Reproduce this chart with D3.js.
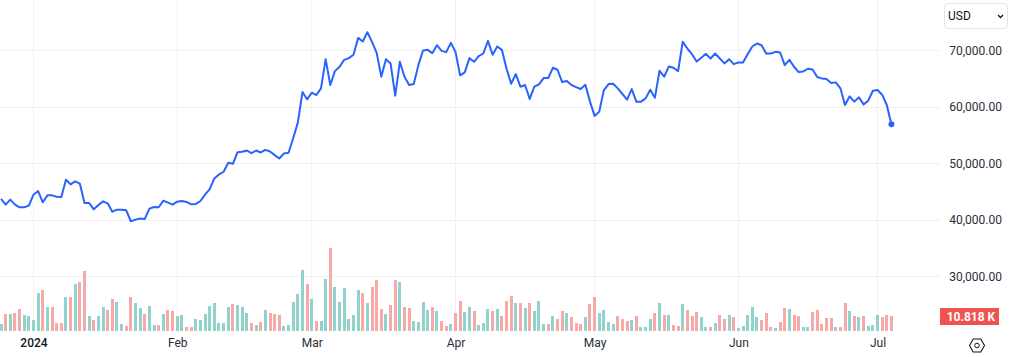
<!DOCTYPE html>
<html>
<head>
<meta charset="utf-8">
<script src="https://cdn.jsdelivr.net/npm/d3@7"></script>
<style>
    html, body { margin: 0; padding: 0; background: #fff; }
    svg { display: block; }
    text { font-family: Roboto, "Open Sans", sans-serif; }
</style>
</head>
<body>
<div id="chart"></div>
<script>
const startDate = "2023-12-25";

const priceValues = [
    43720,42720,43600,42720,42250,42250,42540,44480,45130,43130,44360,44360,44130,44070,47130,46300,46830,46420,43010,43010,
    41890,42660,43300,42950,41480,41830,41830,41710,39780,40070,40250,40190,42010,42300,42250,43420,43070,42720,43250,43360,
    43190,42780,42840,43360,44480,45480,47360,48070,48540,50130,49950,52010,52070,52300,51830,52300,51950,52420,52130,51480,
    50890,51770,51890,54480,57240,62650,61360,62530,62120,63300,68470,63890,66350,67120,68350,68650,69240,72230,71590,73230,
    71530,69590,65360,68470,67710,62000,68000,65360,63890,64060,67410,70000,70120,69530,70940,69940,69710,71350,69760,65590,
    66120,68650,68000,69000,69470,71710,69240,70710,70120,66820,64120,65830,63590,63890,61420,63590,64000,65120,65120,66940,
    66590,64410,64590,63890,63530,63180,63940,60950,58420,59180,63000,64060,64120,63300,62300,61300,63180,60950,60950,61530,
    63060,61650,66410,65360,67180,66940,66350,71530,70350,69350,68060,68710,69410,68590,69470,68590,67710,68470,67590,67880,
    67880,69350,70710,71230,70940,69470,69470,69760,69650,67410,68350,67120,66180,66300,66770,66650,65300,65060,64940,64240,
    64360,63300,60360,61890,60950,61710,60470,61120,62880,63000,62180,60360,56950
];

// thousands
const volumeValues = [
    5.05,12.26,12.26,12.98,15.86,11.54,10.82,7.93,27.4,29.56,17.3,17.3,5.77,5.77,24.51,24.51,33.89,35.33,43.26,10.82,
    7.93,10.82,17.3,15.14,23.07,20.91,5.05,3.61,24.51,20.19,16.58,12.26,18.03,4.33,4.33,12.26,15.14,14.42,10.82,11.54,
    2.88,2.88,8.65,7.93,12.26,18.03,20.19,5.77,5.77,17.3,19.47,18.75,17.3,12.98,5.77,4.33,6.49,15.14,12.98,12.26,
    11.54,3.61,4.33,20.91,26.68,43.98,33.89,23.07,7.21,7.21,37.49,59.84,31.72,20.91,31,8.65,11.54,29.56,27.4,20.19,
    31.72,36.77,15.86,12.26,18.75,36.77,35.33,17.3,16.58,7.21,6.49,20.91,15.14,17.3,14.42,7.21,3.61,5.05,12.98,21.63,
    13.7,17.3,14.42,4.33,5.77,15.86,14.42,15.86,10.82,21.63,25.24,20.19,20.19,16.58,20.19,14.42,21.63,5.05,5.05,10.82,
    8.65,14.42,12.98,10.09,5.77,5.05,10.09,19.47,24.51,12.98,15.14,6.49,5.05,10.82,8.65,7.21,7.93,10.82,2.88,2.88,
    8.65,12.98,20.19,11.54,11.54,4.33,3.61,19.47,15.14,10.82,13.7,10.09,2.88,2.88,5.77,11.54,8.65,11.54,10.09,2.16,
    3.61,11.54,17.3,10.09,7.93,12.98,2.88,2.16,6.49,16.58,15.86,11.54,10.82,2.88,2.88,13.7,15.14,5.05,9.37,9.37,
    2.88,2.88,20.19,14.42,10.82,10.09,10.82,3.61,4.33,11.54,10.09,11.54,10.818
];

// 1 = up day (teal), 0 = down day (red)
const volumeUp = [
    1,0,1,0,0,1,1,1,1,0,1,0,0,0,1,0,1,0,0,1,
    0,1,1,0,0,1,1,0,0,1,1,0,1,1,0,1,0,0,1,1,
    0,0,1,1,1,1,1,1,1,1,0,1,1,1,0,1,0,1,0,0,
    0,1,1,1,1,1,0,1,0,1,1,0,1,1,1,1,1,1,0,1,
    0,0,0,1,0,0,1,0,0,1,1,1,1,0,1,0,0,1,0,0,
    1,1,0,1,1,1,0,1,0,0,0,1,0,1,0,1,1,1,0,1,
    0,0,1,0,0,0,1,0,0,1,1,1,1,0,0,0,1,0,1,1,
    1,0,1,0,1,0,0,1,0,0,0,1,1,0,1,0,0,1,0,1,
    1,1,1,1,0,0,0,1,0,0,1,0,0,1,1,0,0,0,0,0,
    1,0,0,1,0,1,0,1,1,1,0,0,0
];

const priceTicks = [30000, 40000, 50000, 60000, 70000];
const monthTicks = ["2024-01-01", "2024-02-01", "2024-03-01", "2024-04-01", "2024-05-01", "2024-06-01", "2024-07-01"];
const monthLabels = ["2024", "Feb", "Mar", "Apr", "May", "Jun", "Jul"];

const width = 1010;
const height = 357;
const paneRight = 940;
const paneBottom = 333;
const volBase = 331;
const gridColor = "#f1f1f3";
const labelColor = "#2a2e39";

const dates = priceValues.map((d, i) => d3.utcDay.offset(new Date(startDate), i));
const tickDates = monthTicks.map(d => new Date(d));

const x = d3.scaleUtc()
    .domain([tickDates[0], tickDates[6]])
    .range([33.5, 877.5]);

const y = d3.scaleLinear()
    .domain([30000, 70000])
    .range([276.5, 50.5]);

const yVol = d3.scaleLinear()
    .domain([0, 10.818])
    .range([volBase, volBase - 15]);

const svg = d3.select("#chart")
    .append("svg")
    .attr("width", width)
    .attr("height", height);

// grid
svg.append("g")
    .selectAll("line")
    .data(priceTicks)
    .enter()
    .append("line")
    .attr("x1", 0)
    .attr("x2", paneRight)
    .attr("y1", d => Math.round(y(d) - 0.5) + 0.5)
    .attr("y2", d => Math.round(y(d) - 0.5) + 0.5)
    .attr("stroke", gridColor);

svg.append("g")
    .selectAll("line")
    .data(tickDates)
    .enter()
    .append("line")
    .attr("x1", d => x(d))
    .attr("x2", d => x(d))
    .attr("y1", 0)
    .attr("y2", paneBottom)
    .attr("stroke", gridColor);

// volume
svg.append("g")
    .selectAll("rect")
    .data(volumeValues)
    .enter()
    .append("rect")
    .attr("x", (d, i) => Math.round(x(dates[i]) - 1.5))
    .attr("y", d => Math.round(yVol(d)))
    .attr("width", 3)
    .attr("height", d => volBase - Math.round(yVol(d)))
    .attr("fill", (d, i) => volumeUp[i] ? "#92d2cc" : "#f7a9a7");

// price line
const line = d3.line()
    .x((d, i) => x(dates[i]))
    .y(d => y(d));

svg.append("path")
    .datum(priceValues)
    .attr("fill", "none")
    .attr("stroke", "#2962ff")
    .attr("stroke-width", 2)
    .attr("stroke-linejoin", "round")
    .attr("d", line);

const lastIndex = priceValues.length - 1;
svg.append("circle")
    .attr("cx", x(dates[lastIndex]))
    .attr("cy", y(priceValues[lastIndex]))
    .attr("r", 3)
    .attr("fill", "#2962ff");

// price axis
const yAxis = svg.append("g")
    .attr("transform", "translate(1002,0)")
    .call(d3.axisRight(y).tickValues(priceTicks).tickSize(0).tickPadding(0).tickFormat(d3.format(",.2f")));
yAxis.select(".domain").remove();
yAxis.selectAll("text")
    .attr("text-anchor", "end")
    .attr("font-size", 12)
    .attr("fill", labelColor)
    .style("font-family", "Roboto, sans-serif");

// time axis
const xAxis = svg.append("g")
    .attr("transform", "translate(0,338)")
    .call(d3.axisBottom(x).tickValues(tickDates).tickSize(0).tickPadding(0)
        .tickFormat((d, i) => monthLabels[i]));
xAxis.select(".domain").remove();
xAxis.selectAll("text")
    .attr("font-size", 12)
    .attr("fill", (d, i) => i === 0 ? "#131722" : labelColor)
    .attr("font-weight", (d, i) => i === 0 ? 500 : 400)
    .style("font-family", "Roboto, sans-serif");

// currency button
svg.append("rect")
    .attr("x", 944.5)
    .attr("y", 3.5)
    .attr("width", 63)
    .attr("height", 25)
    .attr("rx", 4)
    .attr("fill", "#fff")
    .attr("stroke", "#e0e3eb");
svg.append("text")
    .attr("x", 948)
    .attr("y", 20)
    .attr("font-size", 12)
    .attr("fill", "#131722")
    .text("USD");
svg.append("path")
    .attr("d", "M998 15l2.5 2.5l2.5-2.5")
    .attr("fill", "none")
    .attr("stroke", "#131722")
    .attr("stroke-width", 1.3);

// last volume label
svg.append("rect")
    .attr("x", 940)
    .attr("y", 308)
    .attr("width", 59)
    .attr("height", 17)
    .attr("fill", "#ef5350");
svg.append("text")
    .attr("x", 971)
    .attr("y", 321)
    .attr("text-anchor", "middle")
    .attr("font-size", 12)
    .attr("font-weight", 700)
    .attr("fill", "#fff")
    .text("10.818 K");

// settings icon
svg.append("path")
    .attr("d", "M969.5 345.5l3.7-6.5h7.6l3.7 6.5l-3.7 6.5h-7.6z")
    .attr("fill", "none")
    .attr("stroke", "#131722")
    .attr("stroke-width", 1.1);
svg.append("circle")
    .attr("cx", 977)
    .attr("cy", 345.5)
    .attr("r", 2.3)
    .attr("fill", "none")
    .attr("stroke", "#131722");
</script>
</body>
</html>
